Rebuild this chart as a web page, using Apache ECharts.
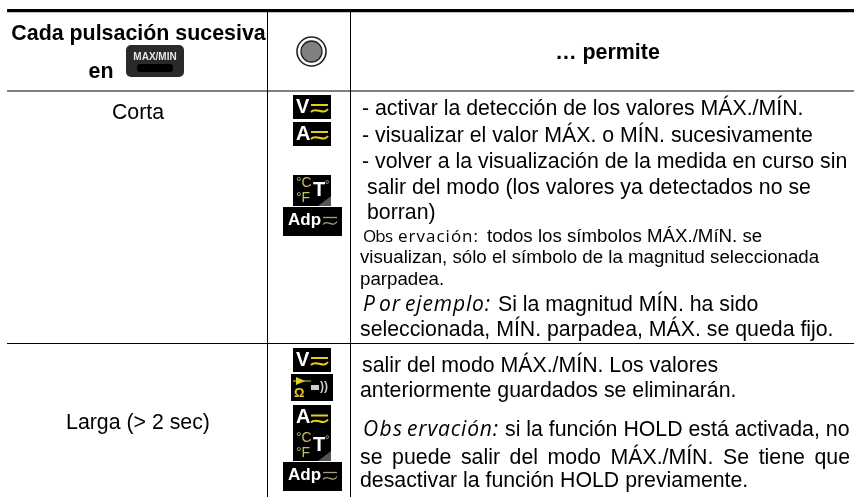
<!DOCTYPE html>
<html><head><meta charset="utf-8">
<style>html,body{margin:0;padding:0;background:#fff}#c{width:854px;height:497px}</style>
<script src="https://cdn.jsdelivr.net/npm/echarts@6/dist/echarts.min.js"></script></head>
<body><div id="c"></div>
<script>
const headerLeft = ["Cada pulsación sucesiva", "en"];
const keyLabel = "MAX/MIN";
const headerRight = "… permite";
const rowLabels = ["Corta", "Larga (> 2 sec)"];
const bodyLines = [
 ["- activar la detección de los valores MÁX./MÍN.",362,109,21.3],
 ["- visualizar el valor MÁX. o MÍN. sucesivamente",362,136,21.3],
 ["- volver a la visualización de la medida en curso sin",362,162,21.3],
 ["salir del modo (los valores ya detectados no se",367,188,21.3],
 ["borran)",367,213,21.3],
 ["todos los símbolos MÁX./MíN. se",487,237,18.7],
 ["visualizan, sólo el símbolo de la magnitud seleccionada",360,258,18.7],
 ["parpadea.",360,280,18.7],
 ["Si la magnitud MÍN. ha sido",498,305,21.3],
 ["seleccionada, MÍN. parpadea, MÁX. se queda fijo.",360,330,21.3],
 ["salir del modo MÁX./MÍN. Los valores",362,366,21.3],
 ["anteriormente guardados se eliminarán.",360,391,21.3],
 ["si la función HOLD está activada, no",505,430,21.3],
 ["desactivar la función HOLD previamente.",360,481,21.3]
];
const justifiedLine = ["se puede salir del modo MÁX./MÍN. Se tiene que",360,850,458,21.3];
const spacedRuns = [
 ["Obs",363,393,237,17,false],["ervación:",398,478,237,17,false],
 ["P",363,375,305,21,true],["or",379,400,305,21,true],["ejemplo:",405,490,305,21,true],
 ["Obs",363,402,430,21,true],["ervación:",407,498,430,21,true]
];
const hLines = [[7,854,91,1.2],[7,854,343.5,1.2],[7,854,10.6,3.4]];
const vLines = [[267.5,12,497],[350.5,12,497]];
const icons = [
 ["V",293,95,38,24],["A",293,122,38,24],["T",293,175,38,31],["Adp",283,207,59,29],
 ["V",293,348,38,24],["D",291,374,42,27],["A",293,405,38,25],["T",293,430,38,31],["Adp",283,462,59,29]
];
const sans = '"Liberation Sans"', human='"Open Sans"', yellow='#e6cf1c';
const el = [];
const ctx=document.createElement('canvas').getContext('2d');
const measure=(s,size,fam,st)=>{ctx.font=(st||'')+' '+size+'px '+fam;return ctx.measureText(s).width;};
const txt=(s,x,y,size,o={})=>el.push({type:'text',x,y,style:Object.assign({text:s,fontFamily:sans,fontSize:size,fill:'#000',textVerticalAlign:'middle',textAlign:'left'},o)});
hLines.forEach(l=>el.push({type:'line',shape:{x1:l[0],x2:l[1],y1:l[2],y2:l[2]},style:{stroke:'#000',lineWidth:l[3]}}));
vLines.forEach(l=>el.push({type:'line',shape:{x1:l[0],x2:l[0],y1:l[1],y2:l[2]},style:{stroke:'#000',lineWidth:1}}));
txt(headerLeft[0],138.5,34,21.4,{fontWeight:'bold',textAlign:'center'});
txt(headerLeft[1],101,72,21.4,{fontWeight:'bold',textAlign:'center'});
el.push({type:'rect',shape:{x:126,y:45,width:58,height:32,r:5},style:{fill:'#2a2a2a'}});
el.push({type:'rect',shape:{x:137,y:64,width:36,height:8,r:3},style:{fill:'#000'}});
txt(keyLabel,155,57,10,{fontWeight:'bold',textAlign:'center',fill:'#e4e4e4'});
el.push({type:'circle',shape:{cx:311.5,cy:51.5,r:14.5},style:{fill:'#fff',stroke:'#222',lineWidth:1.6}});
el.push({type:'circle',shape:{cx:311.5,cy:51.5,r:10.5},style:{fill:'#808080',stroke:'#222',lineWidth:1.3}});
txt(headerRight,607.5,53,21.4,{fontWeight:'bold',textAlign:'center'});
txt(rowLabels[0],138,113,21.3,{textAlign:'center'});
txt(rowLabels[1],138,423,21.3,{textAlign:'center'});
bodyLines.forEach(l=>txt(l[0],l[1],l[2],l[3]));
(function(){const [s,x0,x1,y,size]=justifiedLine;const w=s.split(' ');
 const tot=w.reduce((a,b)=>a+measure(b,size,sans),0);const gap=(x1-x0-tot)/(w.length-1);let x=x0;
 w.forEach(t=>{txt(t,x,y,size);x+=measure(t,size,sans)+gap;});})();
spacedRuns.forEach(r=>{const [s,x0,x1,y,size,it]=r;const st=it?'italic':'';const fam=human;
 const chars=[...s];const tot=chars.reduce((a,c)=>a+measure(c,size,fam,st),0);
 const gap=chars.length>1?(x1-x0-tot)/(chars.length-1):0;let x=x0;
 chars.forEach(c=>{txt(c,x,y,size,{fontFamily:fam,fontStyle:it?'italic':'normal'});x+=measure(c,size,fam,st)+gap;});});
function wave(x,y,w,col,lw){
 el.push({type:'line',shape:{x1:x,x2:x+w,y1:y-2,y2:y-2},style:{stroke:col,lineWidth:lw}});
 el.push({type:'bezierCurve',shape:{x1:x,y1:y+5,cpx1:x+w*.3,cpy1:y-1,cpx2:x+w*.7,cpy2:y+9,x2:x+w,y2:y+2},style:{stroke:col,lineWidth:lw,fill:null}});
}
icons.forEach(ic=>{
 const [k,x,y,w,h]=ic;
 el.push({type:'rect',shape:{x,y,width:w,height:h},style:{fill:'#000'}});
 const cy=y+h/2;
 if(k==='V'||k==='A'){txt(k,x+3,cy,20,{fontWeight:'bold',fill:'#fff'});wave(x+18,cy,17,yellow,2);}
 if(k==='T'){
  el.push({type:'polygon',shape:{points:[[x+w,y+h-10],[x+w,y+h],[x+w-13,y+h]]},style:{fill:'#555'}});
  txt("°C",x+3,cy-7,14,{fill:'#c9bd5a'});txt("°F",x+3,cy+8,14,{fill:'#c9bd5a'});
  txt("T",x+20,cy,20,{fontWeight:'bold',fill:'#fff'});txt("°",x+32,cy-6,11,{fill:'#bbb'});}
 if(k==='Adp'){txt("Adp",x+5,cy-1,17,{fontWeight:'bold',fill:'#fff'});wave(x+40,cy-2,14,'#a8a070',1.3);}
 if(k==='D'){
  el.push({type:'polygon',shape:{points:[[x+5,y+3],[x+5,y+11],[x+14,y+7]]},style:{fill:yellow}});
  el.push({type:'line',shape:{x1:x+2,x2:x+20,y1:y+7,y2:y+7},style:{stroke:yellow,lineWidth:1}});
  txt("Ω",x+3,y+19,13,{fill:yellow,fontWeight:'bold'});
  el.push({type:'rect',shape:{x:x+20,y:y+11,width:8,height:5},style:{fill:'#ccc'}});
  txt("))",x+29,y+13,12,{fill:'#ccc',fontWeight:'bold'});}
});
const chart=echarts.init(document.getElementById('c'),null,{renderer:'canvas'});
chart.setOption({animation:false,graphic:{elements:el}});
</script></body></html>
